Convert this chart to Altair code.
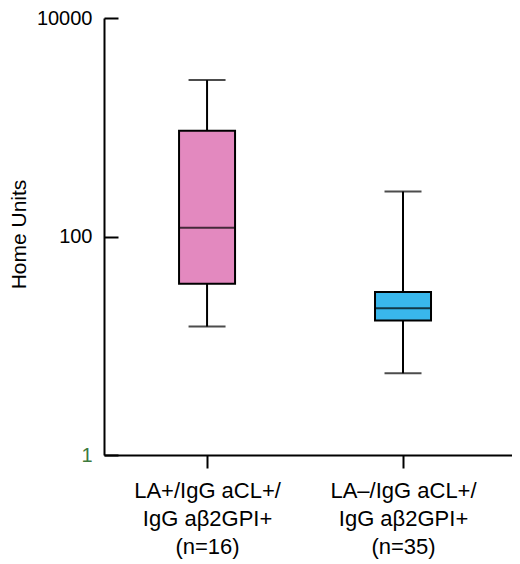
import pandas as pd
import altair as alt

# summary values (log scale, Home Units)
groups = ["LA+/IgG aCL+/|IgG aβ2GPI+|(n=16)", "LA–/IgG aCL+/|IgG aβ2GPI+|(n=35)"]
lower = [15, 5.6]
q1 = [37, 17]
median = [120, 22]
q3 = [930, 31]
upper = [2700, 258]
box_colors = ["#e389bf", "#39b7ec"]

df = pd.DataFrame({
    "group": groups,
    "lower": lower,
    "q1": q1,
    "median": median,
    "q3": q3,
    "upper": upper,
})

FONT = "Liberation Sans"
W, H = 408, 437

x_enc = alt.X(
    "group:N", sort=groups, title=None,
    scale=alt.Scale(type="point", padding=0.541, align=0.486),
    axis=alt.Axis(
        labelExpr="split(datum.label, '|')", labelAngle=0, labelFontSize=22,
        labelLineHeight=28, labelPadding=12, tickSize=13, labelLimit=300,
        labelOverlap=False,
    ),
)
y_scale = alt.Scale(type="log", domain=[1, 10000])
y_axis = alt.Axis(
    values=[1, 100, 10000], format="d", title="Home Units", ticks=False, tickSize=0,
    labelPadding=12, labelFontSize=20, grid=False,
    labelColor=alt.ExprRef(expr="datum.value == 1 ? '#3d7a3d' : 'black'"),
    titleFontSize=21, titleFontWeight="normal", titleX=-85, titleY=216,
    titleAlign="center", titleBaseline="middle",
)

base = alt.Chart(df)

# whiskers
whisker = base.mark_rule(color="black", strokeWidth=2).encode(
    x=x_enc,
    y=alt.Y("lower:Q", scale=y_scale, axis=y_axis),
    y2="upper:Q",
)

# caps
caps = base.transform_fold(["lower", "upper"], as_=["end", "val"]).mark_tick(
    color="black", size=37, thickness=2
).encode(
    x=x_enc,
    y=alt.Y("val:Q", scale=y_scale, axis=y_axis),
)

# boxes
box = base.mark_bar(size=56, stroke="black", strokeWidth=2).encode(
    x=x_enc,
    y=alt.Y("q1:Q", scale=y_scale, axis=y_axis),
    y2="q3:Q",
    color=alt.Color("group:N", sort=groups,
                    scale=alt.Scale(domain=groups, range=box_colors), legend=None),
)

# medians
med = base.mark_tick(color="black", size=56, thickness=2).encode(
    x=x_enc,
    y=alt.Y("median:Q", scale=y_scale, axis=y_axis),
)

main = alt.layer(whisker, box, med, caps)

# inward pointing y ticks drawn by a second axis
inner_ticks = base.mark_point(opacity=0).encode(
    x=x_enc,
    y=alt.Y("median:Q", scale=y_scale, axis=alt.Axis(
        orient="right", offset=-W, values=[1, 100, 10000], labels=False,
        domain=False, grid=False, tickSize=14, title=None,
    )),
)

chart = alt.layer(main, inner_ticks).resolve_scale(y="independent").properties(
    width=W, height=H,
    autosize=alt.AutoSizeParams(type="none"),
    padding={"left": 96, "top": 10, "right": 0, "bottom": 107},
).configure_view(stroke=None).configure_axis(
    domainColor="black", domainWidth=2, tickColor="black", tickWidth=2,
    labelFont=FONT, titleFont=FONT, labelColor="black", titleColor="black",
)

chart.save("out.html", embed_options={"renderer": "svg", "actions": False})
